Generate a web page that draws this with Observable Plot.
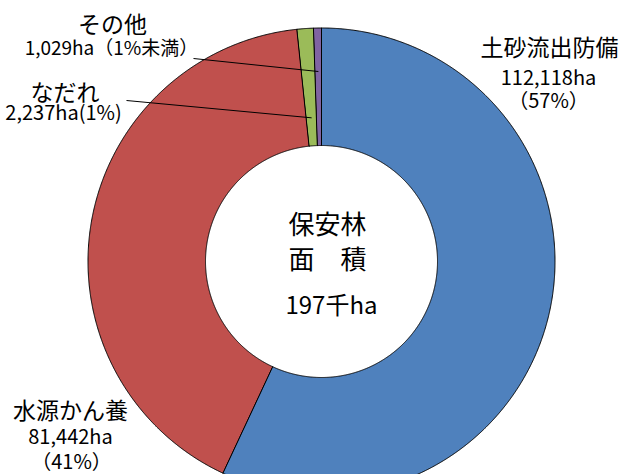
<!DOCTYPE html>
<html><head><meta charset="utf-8">
<script src="https://cdn.jsdelivr.net/npm/d3@7"></script>
<script src="https://cdn.jsdelivr.net/npm/@observablehq/plot@0.6"></script>
<style>body{margin:0;background:#fff;overflow:hidden} svg text{font-family:"Noto Sans CJK JP",sans-serif}</style>
</head><body><div id="chart"></div>
<script>
// ---- data ----
const categories = ["土砂流出防備", "水源かん養", "なだれ", "その他"];
const areas = [112118, 81442, 2237, 1029];
const areaLabels = ["112,118ha", "81,442ha", "2,237ha(1%)", "1,029ha（1%未満）"];
const shareLabels = ["（57%）", "（41%）", "", ""];
const colors = ["#4F81BD", "#C0504D", "#9BBB59", "#8064A2"];
const centerLines = ["保安林", "面　積", "197千ha"];

// ---- geometry (layout) ----
const W = 620, H = 474;
const cx = 321, cy = 261, R = 233.5, R0 = 116;
const slices = d3.pie().sort(null).value(d => d)(areas);
const pt = (a, r) => ({x: cx + r * Math.sin(a), y: cy - r * Math.cos(a)});

const ringPoints = [];
slices.forEach((s, i) => {
  const n = Math.max(2, Math.ceil((s.endAngle - s.startAngle) / 0.004));
  for (let k = 0; k <= n; k++) ringPoints.push({key: categories[i], ...pt(s.startAngle + (s.endAngle - s.startAngle) * k / n, R)});
  for (let k = n; k >= 0; k--) ringPoints.push({key: categories[i], ...pt(s.startAngle + (s.endAngle - s.startAngle) * k / n, R0)});
});

// label anchor layout (manual, like the original's hand-placed labels)
const labelLayout = [
  {head: [549, 48.5], area: [548, 78.5], share: [548, 101]},
  {head: [70, 411], area: [70, 437.5], share: [71, 462]},
  {head: [64.5, 93], area: [63, 113.5], leaderFrom: [126, 100], leaderR: 144},
  {head: [112, 25.5], area: [111, 48], leaderFrom: [193, 58], leaderR: 190}
];
const heads = categories.map((c, i) => ({text: c, x: labelLayout[i].head[0], y: labelLayout[i].head[1]}));
const areaRows = areaLabels.map((t, i) => ({text: t, x: labelLayout[i].area[0], y: labelLayout[i].area[1], small: i === 3}));
const shareRows = shareLabels.map((t, i) => ({text: t, i})).filter(d => d.text)
  .map(d => ({text: d.text, x: labelLayout[d.i].share[0], y: labelLayout[d.i].share[1]}));
const leaders = slices.map((s, i) => ({s, L: labelLayout[i]})).filter(d => d.L.leaderFrom)
  .map(({s, L}) => {
    const e = pt((s.startAngle + s.endAngle) / 2, L.leaderR);
    return {x1: L.leaderFrom[0], y1: L.leaderFrom[1], x2: e.x, y2: e.y};
  });
const centerRows = [
  {text: centerLines[0], x: 327, y: 225, fs: 26},
  {text: centerLines[1], x: 327, y: 260, fs: 26},
  {text: centerLines[2], x: 331, y: 306, fs: 24}
];

const chart = Plot.plot({
  width: W, height: H, margin: 0,
  style: {background: "#fff", fontFamily: "'Noto Sans CJK JP', sans-serif", color: "#000"},
  x: {domain: [0, W], axis: null},
  y: {domain: [H, 0], axis: null},
  color: {domain: categories, range: colors},
  marks: [
    Plot.line(ringPoints, {x: "x", y: "y", z: "key", fill: "key", stroke: "#000", strokeWidth: 1, curve: "linear-closed", clip: true}),
    Plot.link(leaders, {x1: "x1", y1: "y1", x2: "x2", y2: "y2", stroke: "#000", strokeWidth: 1}),
    Plot.text(heads, {x: "x", y: "y", text: "text", fontSize: 23, fill: "#000"}),
    Plot.text(areaRows.filter(d => !d.small), {x: "x", y: "y", text: "text", fontSize: 20, fill: "#000"}),
    Plot.text(areaRows.filter(d => d.small), {x: "x", y: "y", text: "text", fontSize: 19, fill: "#000"}),
    Plot.text(shareRows, {x: "x", y: "y", text: "text", fontSize: 20, fill: "#000"}),
    Plot.text(centerRows, {x: "x", y: "y", text: "text", fontSize: "fs", fill: "#000"})
  ]
});
document.getElementById("chart").appendChild(chart);
</script>
</body></html>
